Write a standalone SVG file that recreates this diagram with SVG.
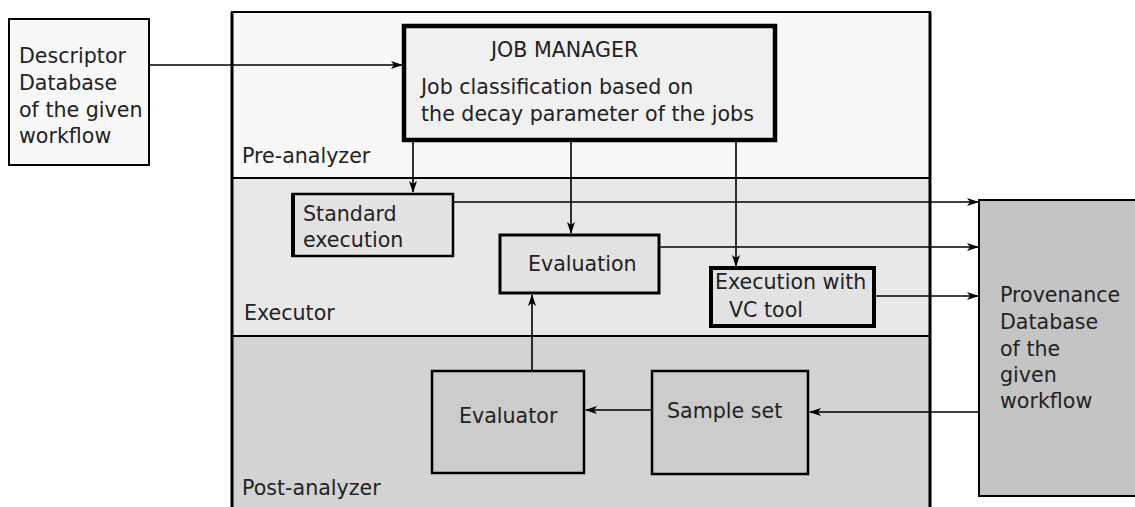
<svg xmlns="http://www.w3.org/2000/svg" width="1135" height="507" viewBox="0 0 1135 507">
<style>
text{font-family:"DejaVu Sans",Verdana,sans-serif;font-size:20.6px;fill:#222}
.b{stroke:#000;stroke-width:2.5}
.c{fill:none;stroke:#000;stroke-width:1.6}
</style>
<defs>
<marker id="ah" markerWidth="12" markerHeight="8" refX="11" refY="4" orient="auto" markerUnits="userSpaceOnUse">
<path d="M0,0 L12,4 L0,8 L3,4 z" fill="#000"/>
</marker>
</defs>
<rect width="1135" height="507" fill="#fff"/>
<g id="descriptor">
<rect x="9" y="19" width="140" height="146" fill="#f8f8f8" stroke="#000" stroke-width="2"/>
<text x="19" y="63">Descriptor</text>
<text x="19" y="90">Database</text>
<text x="19" y="117">of the given</text>
<text x="19" y="143">workflow</text>
</g>
<g id="pre-analyzer">
<rect x="232" y="12" width="698" height="166" fill="#f8f8f8" stroke="#000" stroke-width="2"/>
<text x="242" y="163">Pre-analyzer</text>
</g>
<g id="executor">
<rect x="232" y="178" width="698" height="158" fill="#e8e8e8" stroke="#000" stroke-width="2"/>
<text x="244" y="320">Executor</text>
</g>
<g id="post-analyzer">
<rect x="232" y="336" width="698" height="180" fill="#d3d3d3" stroke="#000" stroke-width="2"/>
<text x="242" y="495">Post-analyzer</text>
</g>
<line x1="232" y1="12" x2="232" y2="507" stroke="#000" stroke-width="3"/>
<line x1="930" y1="12" x2="930" y2="507" stroke="#000" stroke-width="3"/>
<g id="job-manager">
<rect x="404" y="26" width="371" height="114" fill="#f0f0f0" stroke="#000" stroke-width="4.5"/>
<text x="491" y="57">JOB MANAGER</text>
<text x="421" y="94">Job classification based on</text>
<text x="421" y="121">the decay parameter of the jobs</text>
</g>
<g id="standard-execution">
<rect x="293" y="194" width="160" height="62" fill="#e2e2e2" class="b"/>
<line x1="293" y1="193" x2="293" y2="257" stroke="#000" stroke-width="4"/>
<text x="303" y="221">Standard</text>
<text x="303" y="247">execution</text>
</g>
<g id="evaluation">
<rect x="500" y="235" width="159" height="58" fill="#e2e2e2" stroke="#000" stroke-width="3"/>
<text x="528" y="271">Evaluation</text>
</g>
<g id="vc-tool">
<rect x="711" y="268" width="163" height="58" fill="#e2e2e2" stroke="#000" stroke-width="4"/>
<text x="715" y="289">Execution with</text>
<text x="729" y="317">VC tool</text>
</g>
<g id="evaluator">
<rect x="432" y="371" width="152" height="102" fill="#cccccc" class="b"/>
<text x="459" y="423">Evaluator</text>
</g>
<g id="sample-set">
<rect x="652" y="371" width="156" height="103" fill="#cccccc" class="b"/>
<text x="667" y="418">Sample set</text>
</g>
<g id="provenance">
<rect x="979" y="200" width="170" height="296" fill="#c4c4c4" stroke="#000" stroke-width="2"/>
<text x="1000" y="302">Provenance</text>
<text x="1000" y="329">Database</text>
<text x="1000" y="356">of the</text>
<text x="1000" y="382">given</text>
<text x="1000" y="408">workflow</text>
</g>
<g id="connectors">
<line class="c" x1="149" y1="65" x2="402" y2="65" marker-end="url(#ah)"/>
<line class="c" x1="413" y1="140" x2="413" y2="192" marker-end="url(#ah)"/>
<line class="c" x1="571" y1="140" x2="571" y2="233" marker-end="url(#ah)"/>
<line class="c" x1="736" y1="140" x2="736" y2="266" marker-end="url(#ah)"/>
<line class="c" x1="453" y1="202" x2="978" y2="202" marker-end="url(#ah)"/>
<line class="c" x1="659" y1="247" x2="978" y2="247" marker-end="url(#ah)"/>
<line class="c" x1="874" y1="296" x2="978" y2="296" marker-end="url(#ah)"/>
<line class="c" x1="532" y1="371" x2="532" y2="295" marker-end="url(#ah)"/>
<line class="c" x1="652" y1="410" x2="586" y2="410" marker-end="url(#ah)"/>
<line class="c" x1="979" y1="412" x2="810" y2="412" marker-end="url(#ah)"/>
</g>
</svg>
